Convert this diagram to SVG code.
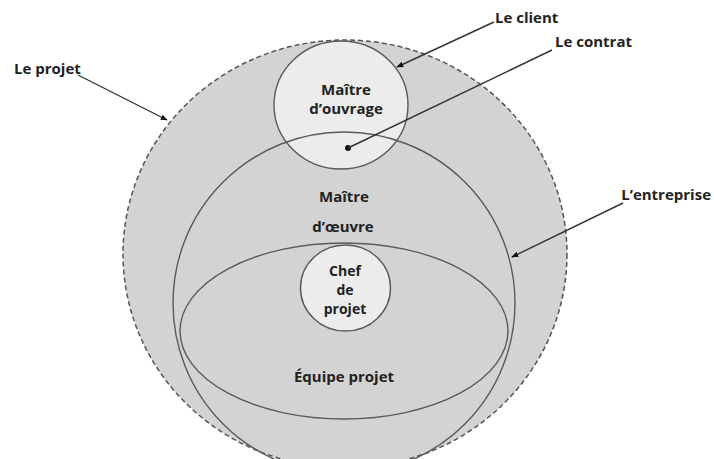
<svg xmlns="http://www.w3.org/2000/svg" width="714" height="459" viewBox="0 0 714 459">
  <style>
    .lbl { font-family: "Open Sans", "Liberation Sans", sans-serif; font-weight: 700; font-size: 15px; fill: #222; }
    .sm { font-size: 14px; }
    .mid { text-anchor: middle; }
    .end { text-anchor: end; }
    .ring { fill: none; stroke: #5a5a5a; stroke-width: 1.4; }
    .light { fill: #ececec; stroke: #5a5a5a; stroke-width: 1.4; }
    .conn { stroke: #333; stroke-width: 1.4; fill: none; }
  </style>
  <defs>
    <marker id="arrow" viewBox="0 0 10 10" refX="9" refY="5" markerWidth="7" markerHeight="7" orient="auto" markerUnits="userSpaceOnUse">
      <path d="M0,1 L10,5 L0,9 z" fill="#111"/>
    </marker>
  </defs>
  <rect width="714" height="459" fill="#ffffff"/>

  <g id="projet">
    <ellipse cx="345" cy="254" rx="222" ry="214" fill="#d3d3d3" stroke="#555" stroke-width="1.5" stroke-dasharray="5 3"/>
  </g>

  <g id="maitre-ouvrage">
    <ellipse class="light" cx="341" cy="105" rx="67" ry="64"/>
    <text class="lbl mid" x="346" y="95">Maître</text>
    <text class="lbl mid" x="346" y="114">d’ouvrage</text>
  </g>

  <g id="maitre-oeuvre">
    <circle class="ring" cx="344" cy="303" r="171"/>
    <text class="lbl mid" x="344" y="202">Maître</text>
    <text class="lbl mid" x="343" y="232">d’œuvre</text>
  </g>

  <g id="equipe-projet">
    <ellipse class="ring" cx="344" cy="331" rx="164" ry="88"/>
    <text class="lbl mid" x="344" y="382">Équipe projet</text>
  </g>

  <g id="chef-projet">
    <ellipse class="light" cx="345.5" cy="288" rx="45" ry="43"/>
    <text class="lbl sm mid" x="345" y="276">Chef</text>
    <text class="lbl sm mid" x="345" y="295">de</text>
    <text class="lbl sm mid" x="345" y="314">projet</text>
  </g>

  <g id="contrat">
    <circle cx="348" cy="148" r="3" fill="#111"/>
  </g>

  <g id="labels">
    <text class="lbl" x="14" y="74">Le projet</text>
    <text class="lbl" x="495" y="23">Le client</text>
    <text class="lbl" x="555" y="47">Le contrat</text>
    <text class="lbl end" x="711" y="200">L’entreprise</text>
  </g>

  <g id="connectors">
    <line class="conn" x1="78" y1="75" x2="167" y2="120" marker-end="url(#arrow)"/>
    <line class="conn" x1="494" y1="22" x2="397" y2="67" marker-end="url(#arrow)"/>
    <line class="conn" x1="552" y1="50" x2="348" y2="148"/>
    <line class="conn" x1="623" y1="203" x2="512" y2="257" marker-end="url(#arrow)"/>
  </g>
</svg>
